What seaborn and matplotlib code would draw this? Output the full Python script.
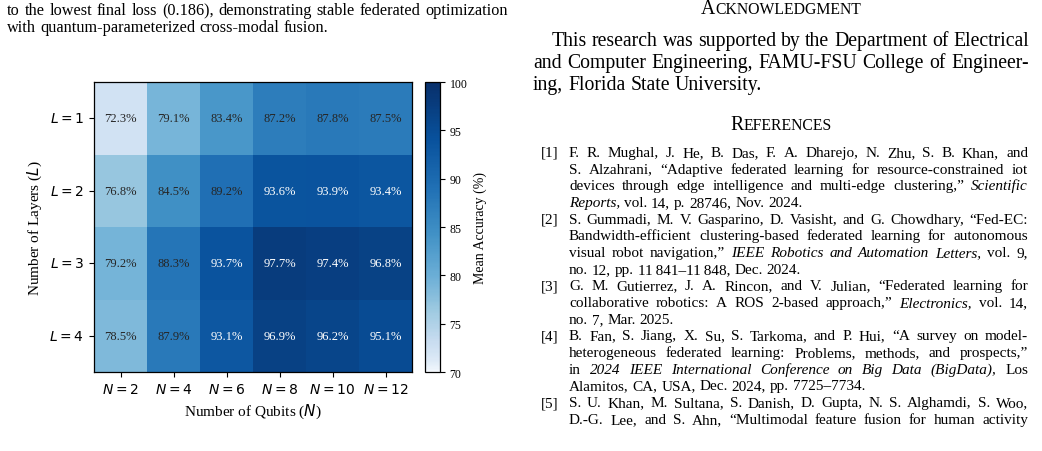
import matplotlib
matplotlib.use("Agg")
import matplotlib.pyplot as plt
from matplotlib.colors import ListedColormap
import seaborn as sns
import pandas as pd
import numpy as np

# DATA - mean accuracy (%) per number of layers (rows) and qubits (columns)
qubit_labels = [r"$N=2$", r"$N=4$", r"$N=6$", r"$N=8$", r"$N=10$", r"$N=12$"]
layer_labels = [r"$L=1$", r"$L=2$", r"$L=3$", r"$L=4$"]
acc_L1 = [72.3, 79.1, 83.4, 87.2, 87.8, 87.5]
acc_L2 = [76.8, 84.5, 89.2, 93.6, 93.9, 93.4]
acc_L3 = [79.2, 88.3, 93.7, 97.7, 97.4, 96.8]
acc_L4 = [78.5, 87.9, 93.1, 96.9, 96.2, 95.1]
cbar_ticks = [70, 75, 80, 85, 90, 95, 100]

# page text around the figure
left_para = [
    "to the lowest final loss (0.186), demonstrating stable federated optimization",
    "with quantum-parameterized cross-modal fusion.",
]
ack_para = [
    "This research was supported by the Department of Electrical",
    "and Computer Engineering, FAMU-FSU College of Engineer-",
    "ing, Florida State University.",
]
refs = [
    ("[1]", ["F. R. Mughal, J. He, B. Das, F. A. Dharejo, N. Zhu, S. B. Khan, and",
             "S. Alzahrani, \u201cAdaptive federated learning for resource-constrained iot",
             "devices through edge intelligence and multi-edge clustering,\u201d _Scientific_",
             "_Reports_, vol. 14, p. 28746, Nov. 2024."], False),
    ("[2]", ["S. Gummadi, M. V. Gasparino, D. Vasisht, and G. Chowdhary, \u201cFed-EC:",
             "Bandwidth-efficient clustering-based federated learning for autonomous",
             "visual robot navigation,\u201d _IEEE Robotics and Automation Letters_, vol. 9,",
             "no. 12, pp. 11\u2009841\u201311\u2009848, Dec. 2024."], False),
    ("[3]", ["G. M. Gutierrez, J. A. Rincon, and V. Julian, \u201cFederated learning for",
             "collaborative robotics: A ROS 2-based approach,\u201d _Electronics_, vol. 14,",
             "no. 7, Mar. 2025."], False),
    ("[4]", ["B. Fan, S. Jiang, X. Su, S. Tarkoma, and P. Hui, \u201cA survey on model-",
             "heterogeneous federated learning: Problems, methods, and prospects,\u201d",
             "in _2024 IEEE International Conference on Big Data (BigData)_, Los",
             "Alamitos, CA, USA, Dec. 2024, pp. 7725\u20137734."], False),
    ("[5]", ["S. U. Khan, M. Sultana, S. Danish, D. Gupta, N. S. Alghamdi, S. Woo,",
             "D.-G. Lee, and S. Ahn, \u201cMultimodal feature fusion for human activity"], True),
]

plt.rcParams["font.family"] = ["Liberation Serif", "DejaVu Serif"]
plt.rcParams["mathtext.fontset"] = "dejavusans"

W, H = 1042, 452
fig = plt.figure(figsize=(W / 100, H / 100), dpi=100)
renderer = fig.canvas.get_renderer()


def parse(line):
    # words wrapped in _..._ are italic
    out, ital = [], False
    for w in line.split(" "):
        start = ital or w.startswith("_")
        if w.count("_") % 2 == 1:
            ital = not ital
        out.append((w.replace("_", ""), start))
    return out


def make_words(yb, line, size):
    objs = [fig.text(0, 1 - yb / H, w, fontsize=size, va="baseline", ha="left",
                     style="italic" if it else "normal") for w, it in parse(line)]
    widths = [t.get_window_extent(renderer=renderer).width for t in objs]
    return objs, widths


def natural_width(line, size):
    objs, widths = make_words(0, line, size)
    for t in objs:
        t.remove()
    return sum(widths) + (len(widths) - 1) * size * 100 / 72 * 0.25


def fit_size(lines, width, base=10.0):
    # font size at which the tightest justified line has normal word spacing
    return base * min(width / natural_width(ln, base) for ln in lines)


def put_line(x0, x1, yb, line, size, justify=True):
    objs, widths = make_words(yb, line, size)
    gap = size * 100 / 72 * 0.25
    if justify and len(objs) > 1:
        gap = (x1 - x0 - sum(widths)) / (len(objs) - 1)
    x = x0
    for t, w in zip(objs, widths):
        t.set_x(x / W)
        x += w + gap


def small_caps(xc, yb, word, size):
    a = fig.text(0, 1 - yb / H, word[0], fontsize=size, va="baseline", ha="left")
    b = fig.text(0, 1 - yb / H, word[1:], fontsize=size * 0.8, va="baseline", ha="left")
    wa = a.get_window_extent(renderer=renderer).width
    wb = b.get_window_extent(renderer=renderer).width
    x = xc - (wa + wb) / 2
    a.set_x(x / W)
    b.set_x((x + wa) / W)


# left column text
s_left = fit_size(left_para[:1], 501) * 0.98
for i, ln in enumerate(left_para):
    put_line(7, 508, 15 + 16.5 * i, ln, s_left, justify=i < len(left_para) - 1)

# right column: acknowledgment
s_body = min(fit_size(ack_para[:1], 477), fit_size(ack_para[1:2], 496))
small_caps(781, 14, "ACKNOWLEDGMENT", s_body)
for i, ln in enumerate(ack_para):
    x0 = 552 if i == 0 else 533
    put_line(x0, 1029, 46 + 22 * i, ln, s_body, justify=i < len(ack_para) - 1)
small_caps(781, 130, "REFERENCES", s_body)

# references
just_lines = [ln for _, lines, cont in refs for j, ln in enumerate(lines)
              if cont or j < len(lines) - 1]
s_ref = fit_size(just_lines, 459) * 0.97
k = 0
for lab, lines, cont in refs:
    for j, ln in enumerate(lines):
        yb = 157 + 16.67 * k
        if j == 0:
            fig.text(541 / W, 1 - yb / H, lab, fontsize=s_ref, va="baseline", ha="left")
        put_line(569, 1028, yb, ln, s_ref, justify=cont or j < len(lines) - 1)
        k += 1

# heatmap
df = pd.DataFrame([acc_L1, acc_L2, acc_L3, acc_L4], index=layer_labels, columns=qubit_labels)
annot = df.map(lambda v: f"{v:.1f}%")
blues = ListedColormap(plt.get_cmap("Blues")(np.linspace(0, 1, 256) ** 0.63))

ax = fig.add_axes([94 / W, 1 - 373 / H, 318 / W, 290 / H])
cax = fig.add_axes([425 / W, 1 - 373 / H, 15 / W, 290 / H])
sns.heatmap(df, ax=ax, cbar_ax=cax, cmap=blues, vmin=70, vmax=100,
            annot=annot, fmt="", annot_kws={"fontsize": 9})

for t in ax.texts:
    v = float(t.get_text().rstrip("%"))
    t.set_color("white" if v > 90 else "#262626")

for s in ax.spines.values():
    s.set_visible(True)
    s.set_linewidth(0.9)
ax.tick_params(axis="both", labelsize=10, length=3.5)
ax.set_xticklabels(qubit_labels, rotation=0)
ax.set_yticklabels(layer_labels, rotation=0)
ax.set_xlabel(r"Number of Qubits ($N$)", fontsize=11)
ax.set_ylabel(r"Number of Layers ($L$)", fontsize=11)

cb = ax.collections[0].colorbar
cb.outline.set_visible(True)
cb.outline.set_linewidth(0.9)
cb.set_ticks(cbar_ticks)
cb.ax.tick_params(labelsize=8.5, length=3.5)
cb.set_label("Mean Accuracy (%)", fontsize=10)

fig.savefig("out.png", dpi=100)
